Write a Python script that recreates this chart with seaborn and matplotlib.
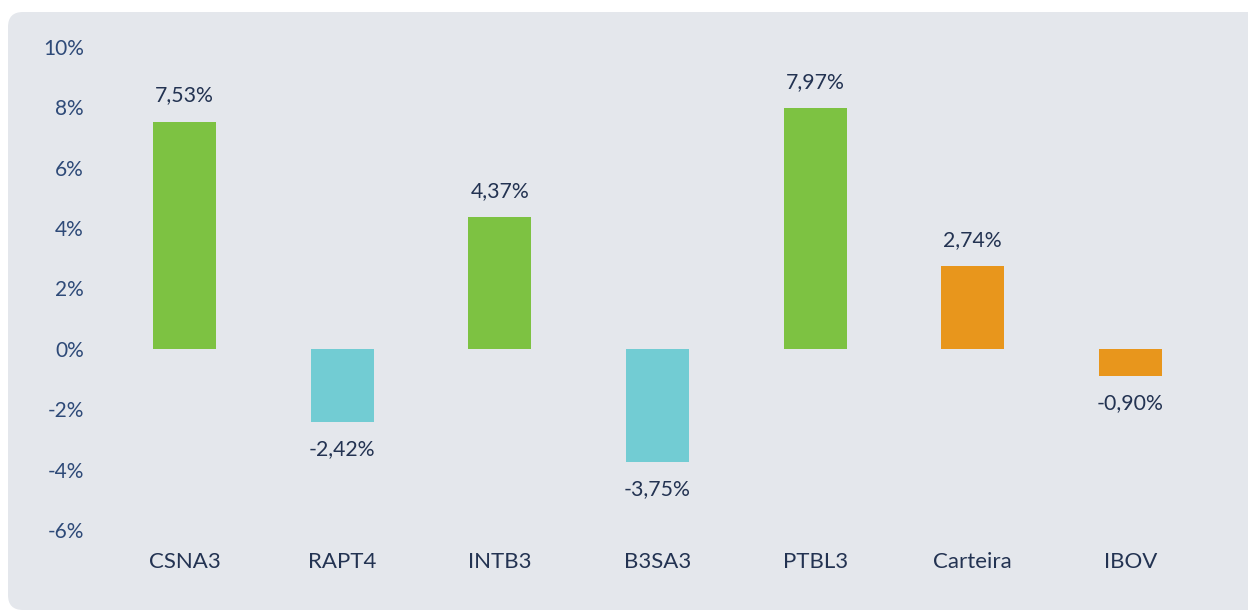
import matplotlib
matplotlib.use('Agg')
import matplotlib.pyplot as plt
import seaborn as sns
import pandas as pd
from matplotlib.patches import FancyBboxPatch

tickers = ['CSNA3', 'RAPT4', 'INTB3', 'B3SA3', 'PTBL3', 'Carteira', 'IBOV']
returns = [7.53, -2.42, 4.37, -3.75, 7.97, 2.74, -0.90]
colors = ['#7DC242', '#72CCD3', '#7DC242', '#72CCD3', '#7DC242', '#E8961C', '#E8961C']
y_ticks = [-6, -4, -2, 0, 2, 4, 6, 8, 10]

data = pd.DataFrame({'ticker': tickers, 'ret': returns})

sns.set_style('white')
plt.rcParams['font.family'] = ['Lato', 'DejaVu Sans']

bg = '#E4E7EC'
tick_col = '#2E4A78'
text_col = '#233352'

fig = plt.figure(figsize=(12.48, 6.13), dpi=100)
fig.patch.set_facecolor('white')

# rounded grey panel behind the chart
panel = FancyBboxPatch((8 / 1248, 3 / 613), 1.05, 598 / 613,
                       boxstyle='round,pad=0,rounding_size=0.012',
                       transform=fig.transFigure, facecolor=bg, edgecolor='none',
                       zorder=-1, mutation_aspect=1248 / 613)
fig.patches.append(panel)

ax = fig.add_axes([106 / 1248, 1 - 530 / 613, 1103 / 1248, 483 / 613])
ax.set_facecolor('none')

sns.barplot(data=data, x='ticker', y='ret', hue='ticker', palette=colors,
            legend=False, width=0.4, saturation=1, linewidth=0, ax=ax)

for i, v in enumerate(returns):
    label = f'{v:.2f}%'.replace('.', ',')
    off = 26 if v >= 0 else -27
    ax.annotate(label, (i, v), xytext=(0, off), textcoords='offset pixels',
                ha='center', va='center', fontsize=15.3, color=text_col)

ax.set_ylim(-6, 10)
ax.set_xlim(-0.5, 6.5)
ax.set_yticks(y_ticks)
ax.set_yticklabels([f'{t}%' for t in y_ticks], fontsize=15, color=tick_col)
ax.tick_params(axis='x', labelsize=16, labelcolor=text_col, pad=16, length=0)
ax.tick_params(axis='y', pad=16, length=0)
ax.set_xlabel('')
ax.set_ylabel('')
sns.despine(ax=ax, left=True, bottom=True)

plt.savefig('out.png', dpi=100)
